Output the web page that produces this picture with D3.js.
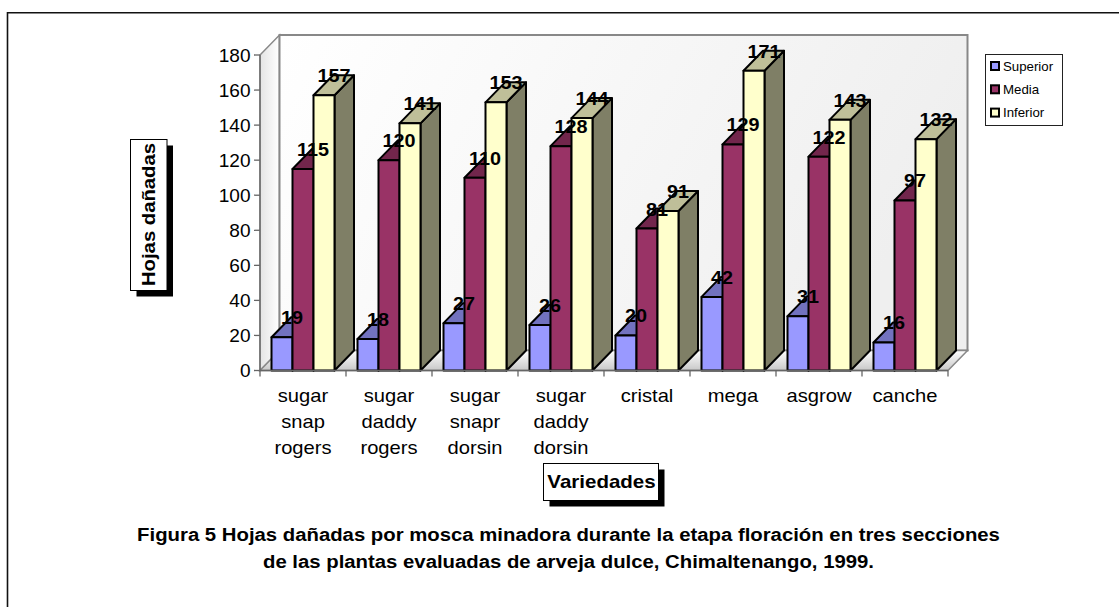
<!DOCTYPE html>
<html><head><meta charset="utf-8">
<script src="https://cdn.jsdelivr.net/npm/d3@7/dist/d3.min.js"></script>
<style>html,body{margin:0;padding:0;background:#fff}svg{display:block}text{font-family:"Liberation Sans",Arial,sans-serif;fill:#000}</style>
</head><body><svg id="c" width="1119" height="607"></svg>
<script>
const categories=[["sugar","snap","rogers"],["sugar","daddy","rogers"],["sugar","snapr","dorsin"],["sugar","daddy","dorsin"],["cristal"],["mega"],["asgrow"],["canche"]];
const seriesNames=["Superior","Media","Inferior"];
const superior=[19,18,27,26,20,42,31,16];
const media=[115,120,110,128,81,129,122,97];
const inferior=[157,141,153,144,91,171,143,132];
const yTicks=[0,20,40,60,80,100,120,140,160,180];
const frontColors=["#9999ff","#993366","#ffffcc"];
const topColors=["#7272bf","#72264c","#bfbf99"];
const sideColors=["#66669f","#66223f","#7f7f66"];
const titleLines=["Figura 5 Hojas dañadas por mosca minadora durante la etapa floración en tres secciones","de las plantas evaluadas de arveja dulce, Chimaltenango, 1999."];
const series=[superior,media,inferior];

const svg=d3.select("#c");
const defs=svg.append("defs");
function grad(id,x2,y2,stops){const g=defs.append("linearGradient").attr("id",id).attr("x1",0).attr("y1",0).attr("x2",x2).attr("y2",y2);
 stops.forEach(s=>g.append("stop").attr("offset",s[0]).attr("stop-color",s[1]));}
grad("wall",1,0.25,[[0,"#ffffff"],[1,"#efefef"]]);
grad("side",1,0,[[0,"#e4e4e4"],[1,"#ffffff"]]);
grad("floor",0,1,[[0,"#ffffff"],[1,"#c8c8c8"]]);

// stretched text helper: the reference's glyphs are wider than they are tall
function label(x,y_,str,size,opts={}){
  const sx=opts.sx||1.1;
  const t=svg.append("text").attr("transform",`translate(${x},${y_}) scale(${sx},1)`)
    .attr("text-anchor",opts.anchor||"middle").attr("font-size",size).text(str);
  if(opts.bold)t.attr("font-weight","bold");
  return t;
}

svg.append("path").attr("d","M7.5,607V12.7H1119").attr("fill","none").attr("stroke","#111").attr("stroke-width",1.6);

const y=d3.scaleLinear().domain([0,180]).range([370.5,55]);
const x0=d3.scaleBand().domain(d3.range(categories.length)).range([260,948]).paddingInner(23/86).paddingOuter(11.5/86);
const x1=d3.scaleBand().domain(d3.range(3)).range([0,x0.bandwidth()]);
const dx=19.5,dy=-20;
const line=pts=>"M"+pts.map(p=>p.join(",")).join("L")+"Z";
const X0=260,X1=948,Y0=y(0),Y1=y(180);

// walls
svg.append("path").attr("d",line([[X0,Y0],[X0,Y1],[X0+dx,Y1+dy],[X0+dx,Y0+dy]])).attr("fill","url(#side)").attr("stroke","#888").attr("stroke-width",1.5);
svg.append("rect").attr("x",X0+dx).attr("y",Y1+dy).attr("width",X1-X0).attr("height",Y0-Y1).attr("fill","url(#wall)").attr("stroke","#888").attr("stroke-width",2);
svg.append("path").attr("d",line([[X0,Y0],[X1,Y0],[X1+dx,Y0+dy],[X0+dx,Y0+dy]])).attr("fill","url(#floor)").attr("stroke","#888").attr("stroke-width",1.5);

// bars
const bars=svg.append("g").attr("stroke","#000").attr("stroke-width",2).attr("stroke-linejoin","round");
categories.forEach((c,i)=>{
  series.forEach((vals,s)=>{
    const v=vals[i],l=x0(i)+x1(s),r=l+x1.bandwidth(),t=y(v),b=y(0);
    const g=bars.append("g");
    g.append("path").attr("d",line([[r,b],[r,t],[r+dx,t+dy],[r+dx,b+dy]])).attr("fill",sideColors[s]);
    g.append("path").attr("d",line([[l,t],[r,t],[r+dx,t+dy],[l+dx,t+dy]])).attr("fill",topColors[s]);
    g.append("rect").attr("x",l).attr("y",t).attr("width",r-l).attr("height",b-t).attr("fill",frontColors[s]);
  });
});

// axes
const ax=svg.append("g").attr("stroke","#666").attr("stroke-width",1.3);
ax.append("line").attr("x1",X0).attr("x2",X0).attr("y1",Y0).attr("y2",Y1);
ax.append("line").attr("x1",X0).attr("x2",X1).attr("y1",Y0).attr("y2",Y0);
ax.selectAll(".ty").data(yTicks).join("line").attr("x1",X0-6).attr("x2",X0).attr("y1",d=>y(d)).attr("y2",d=>y(d));
ax.selectAll(".tx").data(d3.range(categories.length+1)).join("line").attr("x1",d=>X0+d*x0.step()).attr("x2",d=>X0+d*x0.step()).attr("y1",Y0).attr("y2",Y0+6);

yTicks.forEach(d=>label(X0-9.5,y(d)+6.5,d,18,{anchor:"end",sx:1.06}));

categories.forEach((c,i)=>{
  c.forEach((w,k)=>label(x0(i)+x0.bandwidth()/2,402+k*26,w,18,{sx:1.12}));
});

// data labels
series.forEach((vals,s)=>{
  vals.forEach((d,i)=>label(x0(i)+x1(s)+x1.bandwidth()-0.5,y(d)-13,d,18,{bold:true,sx:1.1}));
});

// axis title boxes
function box(x,y_,w,h){
  svg.append("rect").attr("x",x+6).attr("y",y_+6).attr("width",w).attr("height",h).attr("fill","#000");
  svg.append("rect").attr("x",x).attr("y",y_).attr("width",w).attr("height",h).attr("fill","#fff").attr("stroke","#000").attr("stroke-width",1);
}
box(130.5,139.5,36.5,151);
svg.append("text").attr("transform","translate(155,214.5) rotate(-90) scale(1.127,1)").attr("text-anchor","middle").attr("font-size",18).attr("font-weight","bold").text("Hojas dañadas");
box(543.5,463.5,115,37);
label(601.5,488,"Variedades",18,{bold:true,sx:1.14});

// legend
svg.append("rect").attr("x",985.5).attr("y",54.5).attr("width",77).attr("height",71).attr("fill","#fff").attr("stroke","#222").attr("stroke-width",1);
seriesNames.forEach((n,i)=>{
  const ly=66+i*23.3;
  svg.append("rect").attr("x",991).attr("y",ly-4).attr("width",8).attr("height",8).attr("fill",frontColors[i]).attr("stroke","#000").attr("stroke-width",2);
  label(1003,ly+4.5,n,13,{anchor:"start",sx:1.02});
});

// caption
titleLines.forEach((t,i)=>label(568.5,541+i*26.6,t,18,{bold:true,sx:1.13}));
</script></body></html>
